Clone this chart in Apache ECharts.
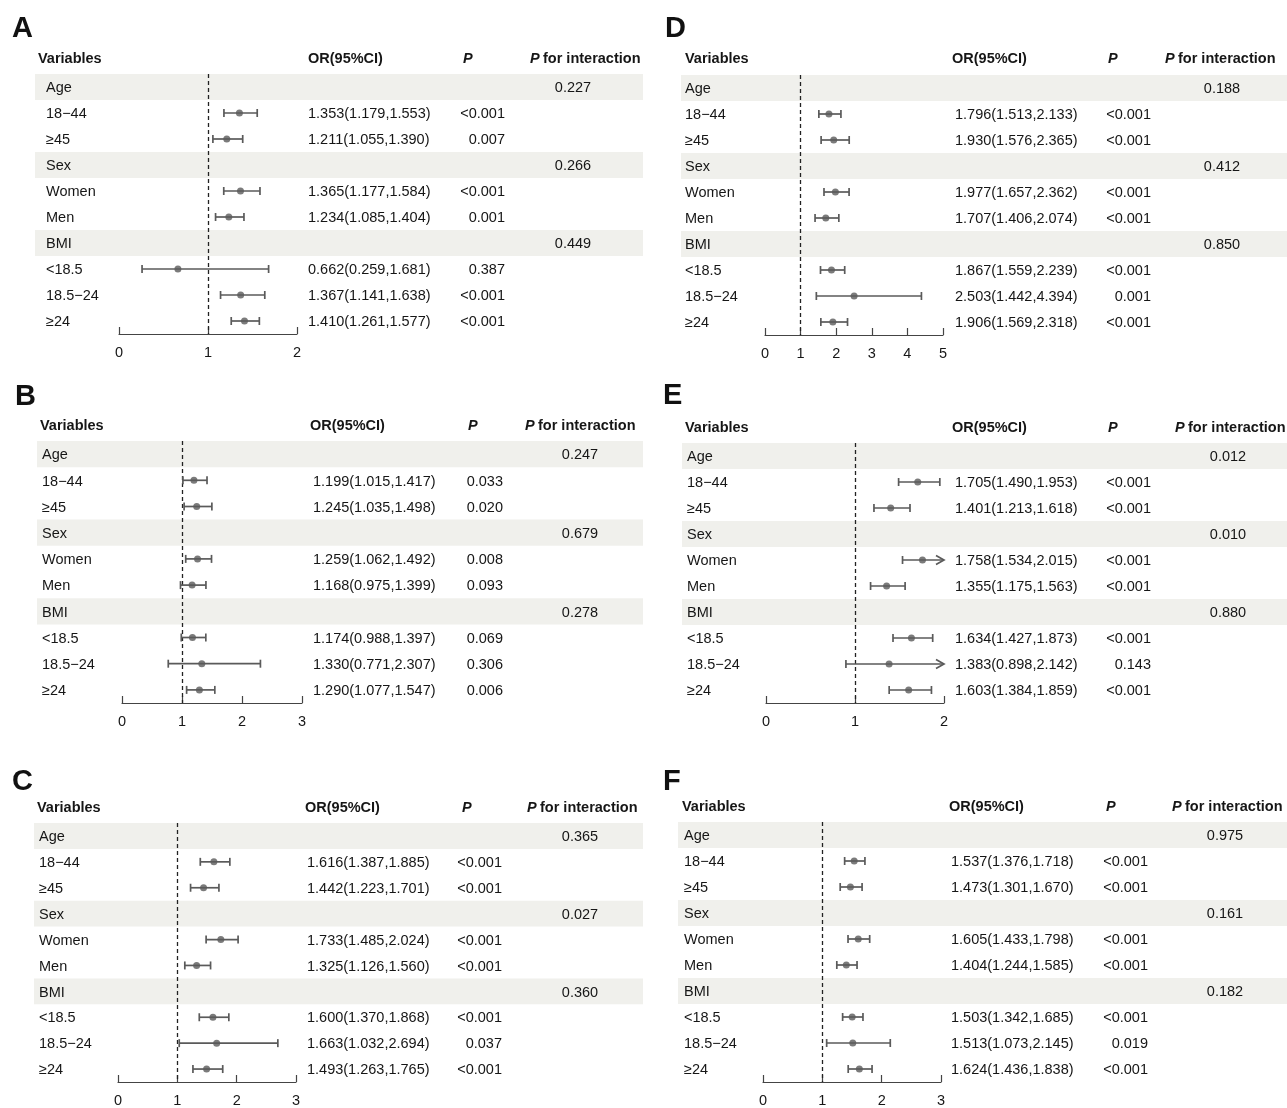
<!DOCTYPE html>
<html><head><meta charset="utf-8">
<script src="https://cdn.jsdelivr.net/npm/echarts/dist/echarts.min.js"></script>
<style>html,body{margin:0;padding:0;background:#fff}#c{width:1287px;height:1108px}</style>
</head><body><div id="c"></div>
<script>
// ---------- data ----------
const rowLabels = ['Age', '18\u221244', '\u226545', 'Sex', 'Women', 'Men', 'BMI', '<18.5', '18.5\u221224', '\u226524'];
const groupRows = [0, 3, 6];
const subRows = [1, 2, 4, 5, 7, 8, 9];
const axisTicks = ['0', '1', '2', '3', '4', '5'];

const orA = [1.353, 1.211, 1.365, 1.234, 0.662, 1.367, 1.410];
const loA = [1.179, 1.055, 1.177, 1.085, 0.259, 1.141, 1.261];
const hiA = [1.553, 1.390, 1.584, 1.404, 1.681, 1.638, 1.577];
const pA = ['<0.001', '0.007', '<0.001', '0.001', '0.387', '<0.001', '<0.001'];
const pintA = ['0.227', '0.266', '0.449'];
const maxA = 2;

const orB = [1.199, 1.245, 1.259, 1.168, 1.174, 1.330, 1.290];
const loB = [1.015, 1.035, 1.062, 0.975, 0.988, 0.771, 1.077];
const hiB = [1.417, 1.498, 1.492, 1.399, 1.397, 2.307, 1.547];
const pB = ['0.033', '0.020', '0.008', '0.093', '0.069', '0.306', '0.006'];
const pintB = ['0.247', '0.679', '0.278'];
const maxB = 3;

const orC = [1.616, 1.442, 1.733, 1.325, 1.600, 1.663, 1.493];
const loC = [1.387, 1.223, 1.485, 1.126, 1.370, 1.032, 1.263];
const hiC = [1.885, 1.701, 2.024, 1.560, 1.868, 2.694, 1.765];
const pC = ['<0.001', '<0.001', '<0.001', '<0.001', '<0.001', '0.037', '<0.001'];
const pintC = ['0.365', '0.027', '0.360'];
const maxC = 3;

const orD = [1.796, 1.930, 1.977, 1.707, 1.867, 2.503, 1.906];
const loD = [1.513, 1.576, 1.657, 1.406, 1.559, 1.442, 1.569];
const hiD = [2.133, 2.365, 2.362, 2.074, 2.239, 4.394, 2.318];
const pD = ['<0.001', '<0.001', '<0.001', '<0.001', '<0.001', '0.001', '<0.001'];
const pintD = ['0.188', '0.412', '0.850'];
const maxD = 5;

const orE = [1.705, 1.401, 1.758, 1.355, 1.634, 1.383, 1.603];
const loE = [1.490, 1.213, 1.534, 1.175, 1.427, 0.898, 1.384];
const hiE = [1.953, 1.618, 2.015, 1.563, 1.873, 2.142, 1.859];
const pE = ['<0.001', '<0.001', '<0.001', '<0.001', '<0.001', '0.143', '<0.001'];
const pintE = ['0.012', '0.010', '0.880'];
const maxE = 2;

const orF = [1.537, 1.473, 1.605, 1.404, 1.503, 1.513, 1.624];
const loF = [1.376, 1.301, 1.433, 1.244, 1.342, 1.073, 1.436];
const hiF = [1.718, 1.670, 1.798, 1.585, 1.685, 2.145, 1.838];
const pF = ['<0.001', '<0.001', '<0.001', '<0.001', '<0.001', '0.019', '<0.001'];
const pintF = ['0.975', '0.161', '0.182'];
const maxF = 3;

// ---------- layout ----------
const panels = [
  {id:'A', d:{or:orA, lo:loA, hi:hiA, p:pA, pint:pintA, max:maxA},
   letter:[12,29], headY:59, top:74, h:260, x0:119, w:178, band:[35,643], varX:38, labX:46, orHX:308, orX:308, pHX:463, pR:505, piHX:530, piC:573},
  {id:'B', d:{or:orB, lo:loB, hi:hiB, p:pB, pint:pintB, max:maxB},
   letter:[15,397], headY:426, top:441, h:262, x0:122, w:180, band:[37,643], varX:40, labX:42, orHX:310, orX:313, pHX:468, pR:503, piHX:525, piC:580},
  {id:'C', d:{or:orC, lo:loC, hi:hiC, p:pC, pint:pintC, max:maxC},
   letter:[12,782], headY:808, top:823, h:260, x0:118, w:178, band:[34,643], varX:37, labX:39, orHX:305, orX:307, pHX:462, pR:502, piHX:527, piC:580},
  {id:'D', d:{or:orD, lo:loD, hi:hiD, p:pD, pint:pintD, max:maxD},
   letter:[665,29], headY:59, top:75, h:260, x0:765, w:178, band:[681,1287], varX:685, labX:685, orHX:952, orX:955, pHX:1108, pR:1151, piHX:1165, piC:1222},
  {id:'E', d:{or:orE, lo:loE, hi:hiE, p:pE, pint:pintE, max:maxE},
   letter:[663,396], headY:428, top:443, h:260, x0:766, w:178, band:[682,1287], varX:685, labX:687, orHX:952, orX:955, pHX:1108, pR:1151, piHX:1175, piC:1228},
  {id:'F', d:{or:orF, lo:loF, hi:hiF, p:pF, pint:pintF, max:maxF},
   letter:[663,782], headY:807, top:822, h:260, x0:763, w:178, band:[678,1287], varX:682, labX:684, orHX:949, orX:951, pHX:1106, pR:1148, piHX:1172, piC:1225}
];

const FONT = '"Liberation Sans", Arial, Helvetica, sans-serif';
const FS = 14.5;
const TXT = '#161616';
const BAR = '#5a5a5a';
const BANDC = '#f0f0ec';
const DY = 1.2; // baseline nudge for table text

const grids = [], xAxes = [], yAxes = [], series = [], graphics = [];

panels.forEach((L, k) => {
  const d = L.d;
  grids.push({left:L.x0, top:L.top, width:L.w, height:L.h, containLabel:false});
  xAxes.push({
    type:'value', gridIndex:k, min:0, max:d.max, interval:1,
    axisLine:{show:true, onZero:false, lineStyle:{color:'#444', width:1.2}},
    axisTick:{show:true, inside:true, length:7, lineStyle:{color:'#444', width:1.2}},
    splitLine:{show:false},
    axisLabel:{color:TXT, fontSize:FS, fontFamily:FONT, margin:11,
      formatter:v => axisTicks[Math.round(v)]}
  });
  yAxes.push({type:'category', gridIndex:k, data:rowLabels, inverse:true, show:false});

  // grey bands for group rows
  series.push({
    type:'custom', xAxisIndex:k, yAxisIndex:k, clip:false, silent:true, z:1,
    encode:{x:0, y:1},
    data: groupRows.map(r => [0, r]),
    renderItem:(params, api) => {
      const y = api.coord([0, api.value(1)])[1];
      const bh = api.size([0, 1])[1];
      return {type:'rect', shape:{x:L.band[0], y:y - bh/2, width:L.band[1]-L.band[0], height:bh},
        style:{fill:BANDC}};
    }
  });

  // table text
  series.push({
    type:'custom', xAxisIndex:k, yAxisIndex:k, clip:false, silent:true, z:5,
    encode:{x:0, y:1},
    data: rowLabels.map((_, i) => [0, i]),
    renderItem:(params, api) => {
      const i = api.value(1);
      const y = api.coord([0, i])[1] + DY;
      const base = {fill:TXT, fontSize:FS, fontFamily:FONT, verticalAlign:'middle'};
      const ch = [{type:'text', style:Object.assign({text:rowLabels[i], x:L.labX, y, align:'left'}, base)}];
      const g = groupRows.indexOf(i);
      if (g >= 0) {
        ch.push({type:'text', style:Object.assign({text:d.pint[g], x:L.piC, y, align:'center'}, base)});
      } else {
        const s = subRows.indexOf(i);
        const t = d.or[s].toFixed(3) + '(' + d.lo[s].toFixed(3) + ',' + d.hi[s].toFixed(3) + ')';
        ch.push({type:'text', style:Object.assign({text:t, x:L.orX, y, align:'left'}, base)});
        ch.push({type:'text', style:Object.assign({text:d.p[s], x:L.pR, y, align:'right'}, base)});
      }
      return {type:'group', children:ch};
    }
  });

  // error bars
  series.push({
    type:'custom', xAxisIndex:k, yAxisIndex:k, clip:false, silent:true, z:6,
    encode:{x:[0,1], y:2},
    data: subRows.map((r, j) => [d.lo[j], d.hi[j], r]),
    renderItem:(params, api) => {
      const lo = api.value(0), hi = api.value(1), r = api.value(2);
      const over = hi > d.max;
      const p1 = api.coord([lo, r]);
      const p2 = api.coord([Math.min(hi, d.max), r]);
      const st = {stroke:BAR, lineWidth:1.7, fill:null};
      const cap = 4;
      const ch = [
        {type:'line', shape:{x1:p1[0], y1:p1[1], x2:p2[0], y2:p2[1]}, style:st},
        {type:'line', shape:{x1:p1[0], y1:p1[1]-cap, x2:p1[0], y2:p1[1]+cap}, style:st}
      ];
      if (over) {
        ch.push({type:'polyline', shape:{points:[[p2[0]-8, p2[1]-4.5],[p2[0], p2[1]],[p2[0]-8, p2[1]+4.5]]}, style:st});
      } else {
        ch.push({type:'line', shape:{x1:p2[0], y1:p2[1]-cap, x2:p2[0], y2:p2[1]+cap}, style:st});
      }
      return {type:'group', children:ch};
    }
  });

  // points + reference line
  series.push({
    type:'scatter', xAxisIndex:k, yAxisIndex:k, z:7, silent:true,
    symbol:'circle', symbolSize:7,
    itemStyle:{color:BAR},
    data: subRows.map((r, j) => [d.or[j], r]),
    markLine:{silent:true, symbol:'none', label:{show:false}, animation:false,
      lineStyle:{type:[4,3], color:'#222', width:1.3},
      data:[{xAxis:1}]}
  });

  // headers & panel letter
  const hb = {fill:TXT, fontSize:FS, fontFamily:FONT, fontWeight:'bold', verticalAlign:'middle'};
  graphics.push({type:'text', x:L.letter[0], y:L.letter[1],
    style:{text:L.id, fill:'#111', fontSize:29, fontFamily:FONT, fontWeight:'bold', verticalAlign:'middle'}});
  graphics.push({type:'text', x:L.varX, y:L.headY, style:Object.assign({text:'Variables'}, hb)});
  graphics.push({type:'text', x:L.orHX, y:L.headY, style:Object.assign({text:'OR(95%CI)'}, hb)});
  graphics.push({type:'text', x:L.pHX, y:L.headY, style:Object.assign({text:'P', fontStyle:'italic'}, hb)});
  graphics.push({type:'text', x:L.piHX, y:L.headY, style:{
    text:'{i|P} {b|for interaction}', verticalAlign:'middle',
    rich:{
      i:{fill:TXT, fontSize:FS, fontFamily:FONT, fontWeight:'bold', fontStyle:'italic'},
      b:{fill:TXT, fontSize:FS, fontFamily:FONT, fontWeight:'bold'}
    }}});
});

const chart = echarts.init(document.getElementById('c'), null, {renderer:'canvas'});
chart.setOption({
  backgroundColor:'#ffffff',
  animation:false,
  grid:grids, xAxis:xAxes, yAxis:yAxes, series:series, graphic:graphics
});
</script>
</body></html>
